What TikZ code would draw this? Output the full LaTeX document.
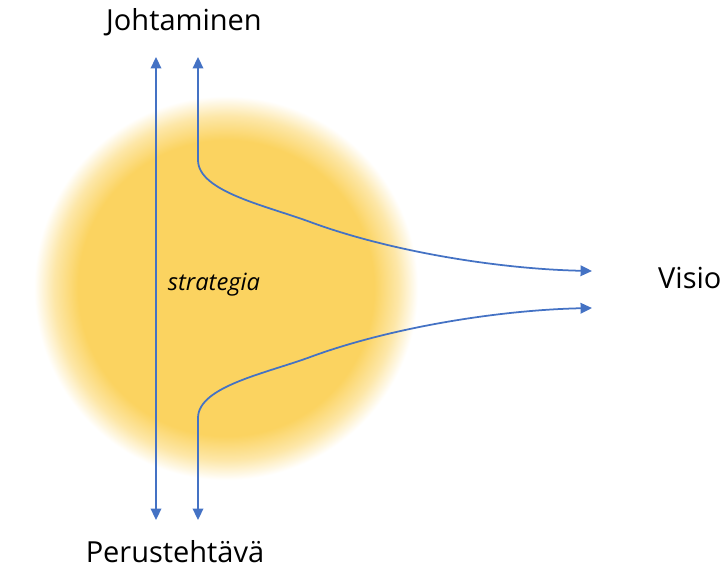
\documentclass[tikz,border=0pt]{standalone}
\usepackage{fontspec}
\setmainfont{Open Sans}
\usepackage{xcolor}
\usetikzlibrary{arrows.meta}
\usetikzlibrary{positioning}

\definecolor{sunyellow}{RGB}{251,211,96}
\definecolor{lineblue}{RGB}{68,114,196}
\pgfdeclareradialshading{sunglow}{\pgfpoint{0bp}{0bp}}{color(0bp)=(sunyellow); color(18.5bp)=(sunyellow); color(21.5bp)=(sunyellow!55!white); color(24bp)=(white); color(50bp)=(white)}

\begin{document}
\begin{tikzpicture}[x=0.02cm, y=-0.02cm,
    flow/.style={draw=lineblue, line width=1pt, {Triangle[length=6.5pt,width=6pt]}-{Triangle[length=6.5pt,width=6pt]}},
    label/.style={font=\fontsize{16.5}{19}\selectfont, anchor=base}]
        \useasboundingbox (0,0) rectangle (720,572);
        \shade[shading=sunglow] (226,288) circle [radius=4cm]; % glow behind strategia

        \node[label] (top) at (184,30) {Johtaminen};
        \node[label] (bottom) at (175,562) {Perustehtävä};
        \node[label, anchor=base west] (vision) at (652,288) {Visio};
        \node[font=\fontsize{13.5}{16}\selectfont\itshape, anchor=base] (strategy) at (214,290) {strategia};

        \coordinate (lt) at (156,57);
        \coordinate (lb) at (156,520);
        \coordinate (rt) at (198,57);
        \coordinate (rb) at (198,520);
        \coordinate (vu) at (592,271);
        \coordinate (vl) at (592,308);

        \draw[flow] (lb) -- (lt);
        \draw[flow] (rt) -- (198,160)
            .. controls (198,192) and (268,206) .. (313,223)
            .. controls (393,252) and (500,269) .. (vu);
        \draw[flow] (rb) -- (198,418)
            .. controls (198,386) and (268,373) .. (313,356)
            .. controls (393,327) and (500,310) .. (vl);
\end{tikzpicture}
\end{document}
